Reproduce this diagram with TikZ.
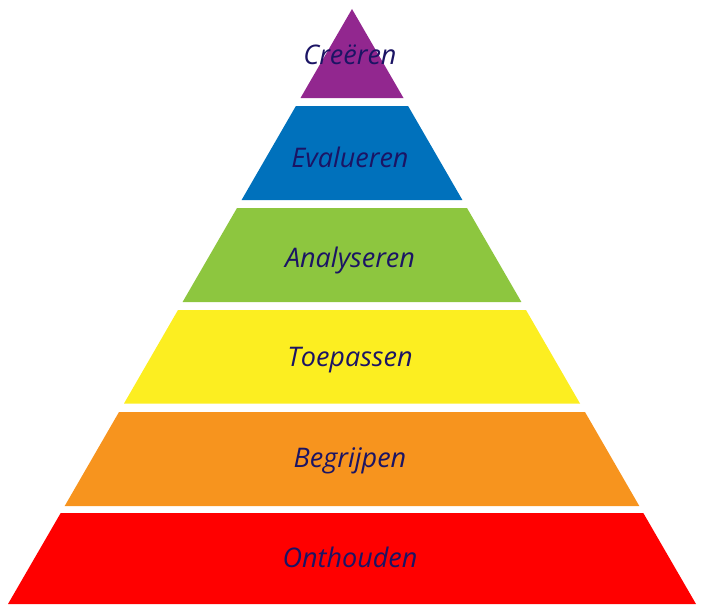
\documentclass[tikz,border=0pt]{standalone}
\usepackage{fontspec}
\setsansfont{Open Sans}
\usetikzlibrary{positioning}

\definecolor{crpurple}{HTML}{92278F}
\definecolor{evblue}{HTML}{0071BC}
\definecolor{angreen}{HTML}{8DC63F}
\definecolor{toyellow}{HTML}{FCEE21}
\definecolor{beorange}{HTML}{F7941E}
\definecolor{onred}{HTML}{FF0000}
\definecolor{labelnavy}{HTML}{1B1464}

\tikzset{
  level label/.style={anchor=base, text=labelnavy,
    font=\sffamily\itshape\fontsize{27}{31}\selectfont},
}

\begin{document}
\begin{tikzpicture}[x=1pt, y=-1pt]
  \useasboundingbox (0,0) rectangle (704,610);

  % layers, top to bottom
  \fill[crpurple] (352,9) -- (403.5,98) -- (300.5,98) -- cycle;
  \fill[evblue] (295.9,106) -- (408.1,106) -- (462.4,200) -- (241.6,200) -- cycle;
  \fill[angreen] (237,208) -- (467,208) -- (521.4,302) -- (182.6,302) -- cycle;
  \fill[toyellow] (178,310) -- (526,310) -- (580,403.5) -- (124,403.5) -- cycle;
  \fill[beorange] (119,412) -- (585,412) -- (639.3,506) -- (64.7,506) -- cycle;
  \fill[onred] (60.7,513) -- (643.3,513) -- (696,604) -- (8,604) -- cycle;

  % labels
  \node[level label] (creeren) at (350,65) {Creëren};
  \node[level label] (evalueren) at (350,167) {Evalueren};
  \node[level label] (analyseren) at (350,267) {Analyseren};
  \node[level label] (toepassen) at (350,366) {Toepassen};
  \node[level label] (begrijpen) at (350,467) {Begrijpen};
  \node[level label] (onthouden) at (350,567) {Onthouden};
\end{tikzpicture}
\end{document}
